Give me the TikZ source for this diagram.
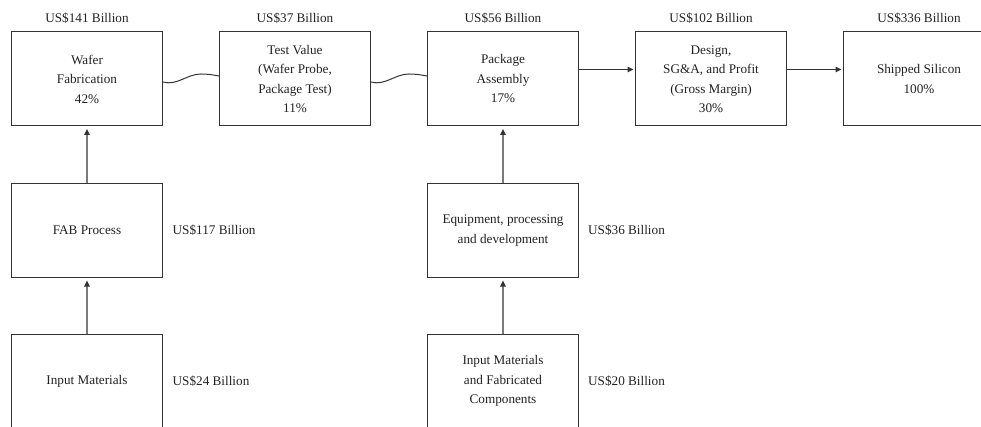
\documentclass[tikz,border=0pt]{standalone}
\usepackage{fontspec}
\setmainfont{Liberation Serif}
\usetikzlibrary{arrows.meta}
\definecolor{edge}{HTML}{333333}
\definecolor{txt}{HTML}{222222}
\definecolor{arr}{HTML}{7A7A7A}
\begin{document}
\begin{tikzpicture}[x=1pt,y=-1pt,
  font=\fontsize{13.2}{19.5}\selectfont,
  box/.style={draw=edge, line width=1pt, minimum width=151pt, minimum height=94pt,
    align=center, inner sep=0pt, text=txt},
  lbl/.style={inner sep=0pt, text=txt},
  harrow/.style={draw=edge, line width=1pt, -{Triangle[length=6pt,width=5.5pt,color=edge]}, shorten >=1.5pt},
  varrow/.style={draw=arr, line width=1.2pt, -{Triangle[length=6pt,width=5.5pt,color=edge]}, shorten >=2.5pt},
  wave/.style={draw=edge, line width=1pt}]
\useasboundingbox (0,0) rectangle (981,427);
% top row
\node[box] (wafer) at (87,79) {Wafer\\Fabrication\\42\%};
\node[box] (test) at (295,79) {Test Value\\(Wafer Probe,\\Package Test)\\11\%};
\node[box] (pkg) at (503,79) {Package\\Assembly\\17\%};
\node[box] (design) at (711,79) {Design,\\SG\&A, and Profit\\(Gross Margin)\\30\%};
\node[box] (ship) at (919,79) {Shipped Silicon\\100\%};
% labels above
\node[lbl] (l1) at (87,18) {US\$141 Billion};
\node[lbl] (l2) at (295,18) {US\$37 Billion};
\node[lbl] (l3) at (503,18) {US\$56 Billion};
\node[lbl] (l4) at (711,18) {US\$102 Billion};
\node[lbl] (l5) at (919,18) {US\$336 Billion};
% lower rows
\node[box] (fab) at (87,230.5) {FAB Process};
\node[box] (input) at (87,381) {Input Materials};
\node[box] (equip) at (503,230.5) {Equipment, processing\\and development};
\node[box] (inputfc) at (503,381) {Input Materials\\and Fabricated\\Components};
% side labels
\node[lbl, anchor=west] (l6) at (172.5,230.5) {US\$117 Billion};
\node[lbl, anchor=west] (l7) at (172.5,381.5) {US\$24 Billion};
\node[lbl, anchor=west] (l8) at (588,230.5) {US\$36 Billion};
\node[lbl, anchor=west] (l9) at (588,381.5) {US\$20 Billion};
% wavy connectors
\draw[wave] ([yshift=-3pt]wafer.east) .. controls ++(14,4) and ++(-14,0) .. ++(38,-8)
  .. controls ++(8,0) and ++(-6,-1) .. ([yshift=3pt]test.west);
\draw[wave] ([yshift=-3pt]test.east) .. controls ++(14,4) and ++(-14,0) .. ++(38,-8)
  .. controls ++(8,0) and ++(-6,-1) .. ([yshift=3pt]pkg.west);
% horizontal arrows
\draw[harrow] ([yshift=9.5pt]pkg.east) -- ([yshift=9.5pt]design.west);
\draw[harrow] ([yshift=9.5pt]design.east) -- ([yshift=9.5pt]ship.west);
% vertical arrows
\draw[varrow] (fab.north) -- (wafer.south);
\draw[varrow] (input.north) -- (fab.south);
\draw[varrow] (equip.north) -- (pkg.south);
\draw[varrow] (inputfc.north) -- (equip.south);
\end{tikzpicture}
\end{document}
